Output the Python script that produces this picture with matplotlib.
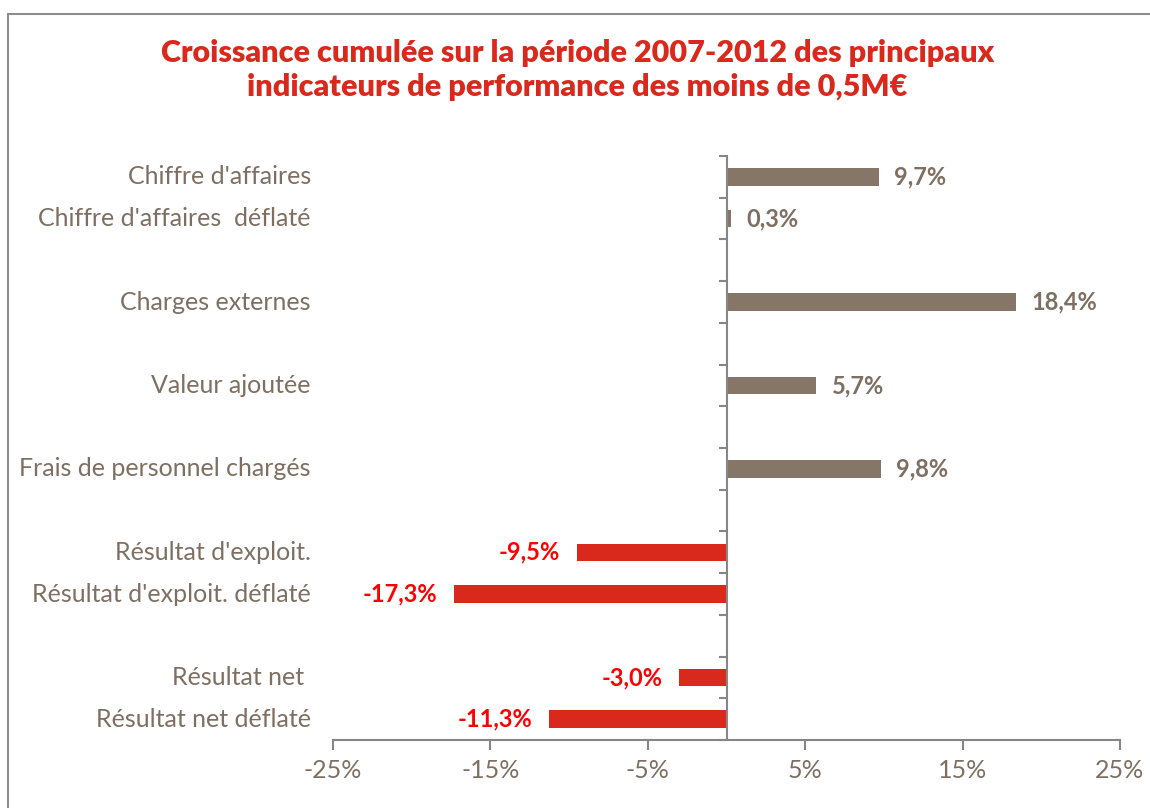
import matplotlib
matplotlib.use("Agg")
import matplotlib.pyplot as plt
from matplotlib.patches import Rectangle

# categories top -> bottom, None = empty slot
labels = ["Chiffre d'affaires", "Chiffre d'affaires  déflaté", None, "Charges externes", None,
          "Valeur ajoutée", None, "Frais de personnel chargés", None,
          "Résultat d'exploit.", "Résultat d'exploit. déflaté", None,
          "Résultat net ", "Résultat net déflaté"]
values = [9.7, 0.3, None, 18.4, None, 5.7, None, 9.8, None, -9.5, -17.3, None, -3.0, -11.3]
xticks = [-25, -15, -5, 5, 15, 25]

brown = '#857668'
red_bar = '#d9291c'
red_txt = '#ff0000'
txt_col = '#7f6f62'
axis_col = '#868686'

plt.rcParams['font.family'] = ['Lato', 'DejaVu Sans']

fig = plt.figure(figsize=(11.5, 8.08), dpi=100)
# outer frame
fig.patches.append(Rectangle((8 / 1150, -0.05), 1.1, 1 - 14 / 808 + 0.05, transform=fig.transFigure,
                             fill=False, edgecolor='#8c8c8c', linewidth=1.5))

ax = fig.add_axes([333 / 1150, 1 - 740 / 808, (1120 - 333) / 1150, (740 - 156) / 808])
n = len(labels)
ax.set_xlim(-25, 25)
ax.set_ylim(n, 0)

for i, (lab, v) in enumerate(zip(labels, values)):
    y = i + 0.5
    if lab is not None:
        ax.annotate(lab, xy=(-25, y), xytext=(-16, 0), textcoords='offset points',
                    ha='right', va='center', fontsize=18, color=txt_col)
    if v is None:
        continue
    col = brown if v > 0 else red_bar
    ax.barh(y, v, height=0.42, color=col, zorder=2)
    s = ('%.1f%%' % v).replace('.', ',')
    if v > 0:
        ax.annotate(s, xy=(v, y), xytext=(11, 0), textcoords='offset points',
                    ha='left', va='center', fontsize=17, fontweight='bold', color=txt_col)
    else:
        ax.annotate(s, xy=(v, y), xytext=(-12, 0), textcoords='offset points',
                    ha='right', va='center', fontsize=17, fontweight='bold', color=red_txt)

for sp in ['top', 'right']:
    ax.spines[sp].set_visible(False)
ax.spines['left'].set_position(('data', 0))
ax.spines['left'].set_color(axis_col)
ax.spines['left'].set_linewidth(1.5)
ax.spines['bottom'].set_color(axis_col)
ax.spines['bottom'].set_linewidth(1.5)

ax.set_yticks(range(n + 1))
ax.set_yticklabels([])
ax.tick_params(axis='y', length=6, width=1.5, color=axis_col, direction='out')
ax.set_xticks(xticks)
ax.set_xticklabels(['%d%%' % t for t in xticks], fontsize=18, color=txt_col)
ax.tick_params(axis='x', length=7, width=1.5, color=axis_col, direction='out', pad=7)

fig.text(0.502, 1 - 70 / 808,
         "Croissance cumulée sur la période 2007-2012 des principaux\nindicateurs de performance des moins de 0,5M€",
         ha='center', va='center', fontsize=22, fontweight='heavy', color=red_bar, linespacing=1.25)

fig.savefig('out.png', dpi=100)
